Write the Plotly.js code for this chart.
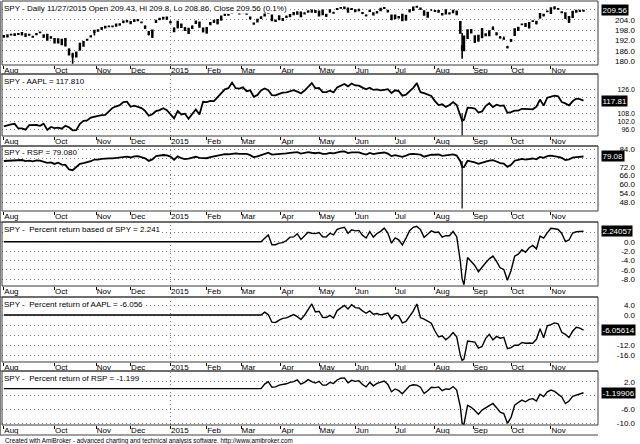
<!DOCTYPE html>
<html><head><meta charset="utf-8">
<script src="https://cdn.plot.ly/plotly-3.0.1.min.js"></script>
<style>html,body{margin:0;padding:0;background:#fff}#chart{width:640px;height:444px}</style>
</head><body><div id="chart"></div>
<script>
// ---------------- DATA ----------------
const dates = [
'2014-08-21','2014-08-25','2014-08-27','2014-08-29',
'2014-09-03','2014-09-05','2014-09-09','2014-09-11','2014-09-15','2014-09-17','2014-09-19','2014-09-23','2014-09-25','2014-09-29',
'2014-10-01','2014-10-03','2014-10-07','2014-10-09','2014-10-13','2014-10-15','2014-10-17','2014-10-21','2014-10-23','2014-10-27','2014-10-29','2014-10-31',
'2014-11-04','2014-11-06','2014-11-10','2014-11-12','2014-11-14','2014-11-18','2014-11-20','2014-11-24','2014-11-26',
'2014-12-01','2014-12-03','2014-12-05','2014-12-09','2014-12-11','2014-12-15','2014-12-17','2014-12-19','2014-12-23','2014-12-26','2014-12-30',
'2015-01-02','2015-01-06','2015-01-08','2015-01-12','2015-01-14','2015-01-16','2015-01-21','2015-01-23','2015-01-27','2015-01-29',
'2015-02-02','2015-02-04','2015-02-06','2015-02-10','2015-02-12','2015-02-17','2015-02-19','2015-02-23','2015-02-25','2015-02-27',
'2015-03-03','2015-03-05','2015-03-09','2015-03-11','2015-03-13','2015-03-17','2015-03-19','2015-03-23','2015-03-25','2015-03-27','2015-03-31',
'2015-04-02','2015-04-07','2015-04-09','2015-04-13','2015-04-15','2015-04-17','2015-04-21','2015-04-23','2015-04-27','2015-04-29',
'2015-05-01','2015-05-05','2015-05-07','2015-05-11','2015-05-13','2015-05-15','2015-05-19','2015-05-21','2015-05-26','2015-05-28',
'2015-06-01','2015-06-03','2015-06-05','2015-06-09','2015-06-11','2015-06-15','2015-06-17','2015-06-19','2015-06-23','2015-06-25','2015-06-29',
'2015-07-01','2015-07-06','2015-07-08','2015-07-10','2015-07-14','2015-07-16','2015-07-20','2015-07-22','2015-07-24','2015-07-28','2015-07-30',
'2015-08-03','2015-08-05','2015-08-07','2015-08-11','2015-08-13','2015-08-17','2015-08-19','2015-08-21','2015-08-24','2015-08-25','2015-08-27','2015-08-31',
'2015-09-02','2015-09-04','2015-09-09','2015-09-11','2015-09-15','2015-09-17','2015-09-21','2015-09-23','2015-09-25','2015-09-29',
'2015-10-01','2015-10-05','2015-10-07','2015-10-09','2015-10-13','2015-10-15','2015-10-19','2015-10-21','2015-10-23','2015-10-27','2015-10-29',
'2015-11-02','2015-11-04','2015-11-06','2015-11-10','2015-11-12','2015-11-16','2015-11-18','2015-11-20','2015-11-24','2015-11-27'
];

const spyOpen = [
194.12,194.31,195.44,195.12,
195.93,195.48,195.85,195.28,194.28,195.60,196.82,195.14,195.53,194.02,
192.99,190.77,192.59,192.99,186.84,184.05,182.59,186.63,188.90,192.57,194.57,196.90,
198.15,198.72,199.53,200.30,200.26,200.46,201.18,202.64,202.98,
202.90,203.27,203.79,202.65,199.29,196.95,194.03,202.74,204.44,204.78,205.63,
202.51,199.07,199.59,201.45,199.30,196.32,199.26,203.27,202.67,197.26,
196.55,202.29,203.53,201.97,204.12,206.93,207.20,208.24,208.76,208.28,
209.33,207.46,204.77,202.09,204.24,205.75,207.56,208.41,206.77,203.28,206.24,
203.95,206.02,206.15,208.15,207.53,208.53,207.98,208.73,209.69,209.41,
206.50,209.72,206.31,209.87,208.19,210.37,211.17,210.85,210.87,210.61,
209.01,209.61,208.24,206.60,209.17,208.07,208.29,210.76,210.93,209.51,206.80,
204.99,205.40,207.13,204.15,208.95,209.73,211.64,210.90,209.21,205.77,209.85,
209.39,208.66,207.69,209.74,207.94,208.48,209.02,202.92,186.50,194.40,193.43,198.25,
191.12,194.84,198.90,194.96,195.03,199.25,195.53,194.00,192.95,187.92,
191.73,195.18,198.03,201.38,201.79,199.46,203.35,203.12,205.29,207.16,209.08,
207.98,211.53,210.54,208.40,208.04,202.83,205.57,208.66,209.20,209.43
];
const spyHigh = [
195.2,195.7,195.9,196.2,
196.4,196.9,196.3,195.9,194.8,196.4,197.3,195.6,195.9,194.5,
193.5,193.3,193.0,193.4,187.5,184.9,185.6,190.7,191.7,193.0,195.0,198.2,
198.6,199.8,200.5,200.7,200.7,201.9,202.0,203.6,203.9,
203.3,204.4,204.6,203.1,201.0,197.6,198.4,204.1,205.2,205.8,206.0,
203.6,199.8,203.5,201.9,199.9,199.3,201.0,203.7,203.0,199.6,
199.8,202.8,204.1,204.5,206.4,207.6,207.6,208.6,209.1,208.7,
209.7,208.1,206.0,202.6,204.7,206.1,207.9,208.8,207.1,204.2,206.6,
205.1,206.6,207.4,208.6,209.0,208.9,208.5,209.6,210.2,209.8,
209.5,210.1,207.6,210.3,208.8,210.9,211.6,211.8,211.2,211.0,
210.2,210.5,208.7,207.2,209.9,208.5,209.2,211.1,211.4,209.9,207.1,
207.1,206.4,207.5,207.1,210.3,211.8,212.2,211.3,209.6,208.7,210.3,
209.8,209.8,208.1,210.1,208.5,209.9,209.6,203.2,196.4,194.5,198.5,198.7,
195.1,195.3,199.3,196.2,197.9,200.3,196.8,194.6,194.4,188.9,
192.8,199.1,200.0,201.9,202.2,202.8,203.8,203.6,208.0,207.6,209.4,
211.3,211.9,210.9,209.1,208.4,206.1,209.2,209.9,209.8,209.8
];
const spyLow = [
193.6,193.8,194.9,194.6,
195.3,195.0,194.1,194.8,193.6,195.1,196.2,193.5,191.9,193.0,
190.3,190.3,189.2,188.5,183.3,178.4,182.1,186.1,188.4,191.8,193.8,195.0,
197.1,198.2,199.0,199.7,199.8,200.0,200.7,202.1,202.5,
201.5,202.8,203.3,202.1,198.8,195.0,193.5,202.2,203.9,204.3,204.1,
201.9,196.8,199.1,199.3,197.6,195.8,198.7,201.6,199.4,196.7,
196.0,200.9,202.3,201.4,203.6,206.4,206.5,207.7,208.1,207.2,
207.9,207.0,204.3,201.2,202.5,204.6,206.0,207.5,203.3,202.8,203.9,
203.4,205.1,205.6,206.7,207.0,205.6,207.2,208.2,208.3,208.1,
206.0,206.7,205.8,208.3,207.6,209.9,210.5,210.3,208.2,209.8,
208.5,209.1,207.4,206.1,208.7,206.6,207.8,209.1,210.4,208.4,203.9,
204.5,204.9,203.2,203.6,208.4,209.2,211.1,209.9,206.5,205.3,209.3,
208.6,208.2,206.6,207.2,207.2,208.0,206.8,196.0,181.4,185.9,192.9,196.1,
190.6,191.3,193.4,194.5,194.5,198.2,195.0,193.1,192.4,187.4,
191.2,194.7,197.5,200.9,199.9,199.0,202.8,201.4,204.8,206.1,208.5,
207.5,210.3,210.0,207.9,204.6,202.3,205.1,208.2,208.7,208.86
];
const spyClose = [
194.70,195.23,195.45,195.77,
195.77,196.45,194.56,195.45,194.14,195.86,196.72,194.02,192.37,193.53,
190.77,192.89,189.68,189.00,183.76,182.56,184.94,190.29,191.22,192.28,194.31,197.81,
197.59,199.46,200.16,200.16,200.31,201.49,201.58,203.22,203.55,
201.97,204.03,204.13,202.60,200.19,195.70,197.99,203.68,204.80,205.45,204.63,
202.77,197.30,203.16,199.83,198.15,198.95,200.20,202.14,199.96,199.14,
199.42,201.45,202.84,204.13,206.09,207.26,206.97,208.18,208.60,207.67,
208.38,207.71,205.57,201.69,203.00,205.07,206.55,208.04,203.76,203.75,204.43,
204.67,205.60,207.07,207.19,208.60,206.08,207.68,209.22,208.82,208.62,
209.10,207.24,207.09,208.80,208.13,210.53,211.04,211.42,208.69,210.34,
209.82,210.06,207.94,206.69,209.54,207.11,208.70,209.65,211.06,208.89,204.44,
206.74,205.89,203.69,206.66,209.88,211.41,211.81,210.40,206.97,208.32,209.85,
209.13,209.31,207.09,207.74,207.67,209.57,207.29,196.46,188.71,186.16,198.13,196.59,
194.62,191.85,193.93,195.83,197.53,198.74,196.42,193.61,192.86,188.15,
192.42,198.74,199.62,201.53,200.41,202.43,203.41,201.93,207.56,206.63,208.98,
210.95,210.78,210.46,208.71,205.13,205.85,208.90,209.46,209.45,209.56
];
const spyChangePct = 0.1;

const aaplClose = [
98.47,99.41,99.99,100.35,
96.86,96.89,95.93,99.30,99.50,99.45,98.84,100.48,95.81,98.01,
97.10,97.53,96.68,98.90,97.71,95.49,95.62,100.32,102.63,102.90,105.09,105.73,
106.32,106.88,107.01,109.39,112.27,113.54,114.37,116.65,117.01,
113.15,113.99,113.08,112.21,110.08,106.42,107.58,109.91,110.66,112.09,110.64,
107.50,104.49,110.02,107.43,107.97,104.22,107.72,111.09,107.32,116.91,
116.65,117.56,117.45,120.51,123.33,126.24,127.12,131.35,127.19,126.87,
127.76,124.84,125.56,120.72,122.06,125.46,126.88,125.63,121.85,121.72,122.89,
123.77,124.04,124.99,125.63,124.61,123.20,125.34,128.06,131.00,127.04,
127.35,124.24,124.20,125.25,123.95,127.68,129.08,130.27,128.52,130.66,
129.17,129.01,127.56,126.34,127.50,125.84,126.22,125.52,125.95,126.42,123.47,
125.52,124.93,121.53,122.23,124.54,127.42,130.95,124.10,123.44,122.33,121.33,
117.43,114.42,115.02,113.00,114.52,116.66,114.52,105.31,102.68,103.29,112.43,112.28,
111.86,108.80,109.68,113.72,115.78,112.96,114.71,113.83,114.22,108.59,
109.11,110.30,110.30,111.64,111.31,111.38,111.25,113.27,118.57,114.06,120.01,
120.66,121.48,121.06,116.77,115.72,114.18,117.29,119.30,118.88,117.81
];

const rspClose = [
75.99,76.20,76.28,76.41,
76.41,76.67,75.94,76.28,75.77,76.44,76.30,75.30,74.70,75.10,
74.00,74.90,73.60,73.30,70.20,69.70,71.70,74.10,74.60,75.05,75.84,77.00,
76.90,77.50,77.80,77.80,77.80,78.20,78.30,78.90,79.00,
78.40,79.20,79.30,78.70,77.80,76.10,77.10,79.30,79.80,80.10,79.80,
79.00,76.90,79.20,77.90,77.30,77.60,78.10,78.90,78.10,77.80,
77.90,78.70,79.20,79.60,80.30,80.70,80.60,81.00,81.20,80.90,
81.10,80.90,80.00,78.60,79.20,80.04,81.08,81.64,80.36,80.44,80.84,
80.92,81.16,81.48,81.64,82.04,81.08,81.48,82.12,81.64,81.32,
81.72,80.84,80.84,81.48,81.24,82.04,82.44,82.52,81.40,81.96,
81.72,81.88,81.00,80.44,81.48,80.68,81.24,81.56,81.80,81.00,79.32,
79.96,79.56,78.84,79.72,80.68,80.92,80.84,80.36,78.92,79.56,80.36,
80.28,80.44,79.56,79.96,79.88,80.52,79.72,75.88,71.96,71.80,76.20,75.72,
75.00,74.12,75.08,75.56,76.20,76.60,75.64,74.60,74.28,72.04,
73.40,76.20,76.84,77.40,77.00,77.56,77.72,77.16,78.76,78.20,79.32,
79.72,79.40,78.84,78.12,76.60,77.16,78.28,78.60,78.92,79.08
];

// intraday extremes of 24 Aug 2015 (long wicks)
const wickDates = ['2015-08-24'];
const aaplWickHigh = [108.3], aaplWickLow = [91.6];
const rspWickHigh = [76.0], rspWickLow = [43.6];

// percent returns: flat 0 before the base day (2015-03-17), then measured
const retBaseDate = '2015-03-17';
const spyRet = [0,
0,0.72,1.45,-0.64,-0.64,-0.31,
-0.20,0.26,0.98,1.03,1.72,0.49,1.27,2.02,1.83,1.73,
1.97,1.06,0.99,1.82,1.49,2.66,2.91,3.10,1.77,2.57,
2.32,2.43,1.40,0.79,2.18,0.99,1.77,2.23,2.92,1.86,-0.31,
0.81,0.40,-0.67,0.78,2.35,3.09,3.29,2.60,0.93,1.58,2.33,
1.98,2.07,0.99,1.30,1.27,2.19,1.08,-4.20,-7.98,-9.22,-3.38,-4.14,
-5.10,-6.45,-5.43,-4.51,-3.68,-3.09,-4.22,-5.59,-5.95,-8.25,
-6.17,-3.09,-2.66,-1.73,-2.27,-1.29,-0.81,-1.53,1.21,0.76,1.91,
2.87,2.78,2.63,1.77,0.03,0.38,1.87,2.14,2.14,2.24057];
const aaplRet = [0,
0,1.13,0.14,-2.88,-2.98,-2.05,
-1.35,-1.13,-0.37,0.14,-0.68,-1.80,-0.10,2.07,4.42,1.26,
1.51,-0.97,-1.00,-0.17,-1.20,1.77,2.89,3.83,2.44,4.14,
2.96,2.83,1.67,0.70,1.63,0.30,0.61,0.05,0.39,0.77,-1.59,
0.05,-0.42,-3.13,-2.57,-0.73,1.56,4.38,-1.08,-1.61,-2.49,-3.29,
-6.40,-8.80,-8.32,-9.93,-8.72,-7.01,-8.72,-16.06,-18.16,-17.67,-10.39,-10.51,
-10.84,-13.28,-12.58,-9.36,-7.72,-9.96,-8.57,-9.27,-8.96,-13.45,
-13.03,-12.08,-12.08,-11.02,-11.28,-11.22,-11.33,-9.72,-5.49,-9.09,-4.34,
-3.83,-3.17,-3.51,-6.93,-7.76,-8.99,-6.51,-4.91,-5.24,-6.05614];
const rspRet = [0,
0,1.3,2.0,0.4,0.5,1.0,
1.1,1.4,1.8,2.0,2.5,1.3,1.8,2.6,2.0,1.6,
2.1,1.0,1.0,1.8,1.5,2.5,3.0,3.1,1.7,2.4,
2.1,2.3,1.2,0.5,1.8,0.8,1.5,1.9,2.2,1.2,-0.9,
-0.1,-0.6,-1.5,-0.4,0.8,1.1,1.0,0.4,-1.4,-0.6,0.4,
0.3,0.5,-0.6,-0.1,-0.2,0.6,-0.4,-5.2,-10.1,-10.3,-4.8,-5.4,
-6.3,-7.4,-6.2,-5.6,-4.8,-4.3,-5.5,-6.8,-7.2,-10.0,
-8.3,-4.8,-4.0,-3.3,-3.8,-3.1,-2.9,-3.6,-1.6,-2.3,-0.9,
-0.4,-0.8,-1.5,-2.4,-4.3,-3.6,-2.2,-1.8,-1.4,-1.19906];

// axis ticks
const monthTickDates = ['2014-08-21','2014-10-01','2014-11-03','2014-12-01','2015-01-02','2015-02-02','2015-03-02','2015-04-01','2015-05-01','2015-06-01','2015-07-01','2015-08-03','2015-09-01','2015-10-01','2015-11-02'];
const monthTickText = ['Aug','Oct','Nov','Dec','2015','Feb','Mar','Apr','May','Jun','Jul','Aug','Sep','Oct','Nov'];
const yearStart = '2015-01-02';
const holidays = ['2014-09-01','2014-11-27','2014-12-25','2015-01-01','2015-01-19','2015-02-16','2015-04-03','2015-05-25','2015-07-03','2015-09-07','2015-11-26'];

const spyTicks = [180,186,192,198,204,210];       const spyTickText = ['180.0','186.0','192.0','198.0','204.0',''];
const aaplTicks = [96,102,108,114,120,126];       const aaplTickText = ['96.0','102.0','108.0','','','126.0'];
const rspTicks = [48,54,60,66,72,78,84];          const rspTickText = ['48.0','54.0','60.0','66.0','72.0','','84.0'];
const spyRetTicks = [-8,-6,-4,-2,0,2];            const spyRetTickText = ['-8.0','-6.0','-4.0','-2.0','0.0',''];
const aaplRetTicks = [-16,-12,-8,-4,0,4];         const aaplRetTickText = ['-16.0','-12.0','','','0.0','4.0'];
const rspRetTicks = [-10,-6,-2,2];                const rspRetTickText = ['-10.0','-6.0','','2.0'];

// ---------------- LAYOUT ----------------
const W = 640, H = 444;
const M = {l: 2, r: 5, t: 1, b: 19};
const plotW = W - M.l - M.r, plotH = H - M.t - M.b;
const xEnd = 596 / plotW;
const py = p => (H - M.b - p) / plotH;
const FONT = 'Arial, "Liberation Sans", sans-serif';
const DOTS = '1px,3px';

const retDates = [dates[0]].concat(dates.slice(dates.indexOf(retBaseDate)));
const last = a => a[a.length - 1];

const panelPx = [[1,65,74],[74,136,146],[146,211,222],[222,286,297],[297,362,371],[371,425,435]];
const yRanges = [[177.7,215.1],[91.2,137.8],[41.85,86.25],[-9.5,4.23],[-18.8,7.2],[-10.5,5.09]];
const yTicks = [[spyTicks,spyTickText],[aaplTicks,aaplTickText],[rspTicks,rspTickText],[spyRetTicks,spyRetTickText],[aaplRetTicks,aaplRetTickText],[rspRetTicks,rspRetTickText]];
const yTickSize = [8, 7, 8, 8, 8, 8];

const layout = {
  width: W, height: H, margin: M, paper_bgcolor: '#fff', plot_bgcolor: '#fff',
  showlegend: false, shapes: [], annotations: [],
  font: {family: FONT, size: 8, color: '#000'}
};
const breaks = [{bounds: ['sat','mon']}, {values: holidays, dvalue: 86400000}];

for (let i = 0; i < 6; i++) {
  const n = i === 0 ? '' : String(i + 1);
  const [top, bot, stripBot] = panelPx[i];
  layout['xaxis' + n] = {
    domain: [0, xEnd], anchor: 'y' + n, type: 'date',
    range: ['2014-08-20', '2015-12-09'], rangebreaks: breaks,
    tickvals: monthTickDates, ticktext: monthTickText,
    ticks: 'outside', ticklen: 3, tickwidth: 1, tickcolor: '#000',
    ticklabelposition: 'outside right', ticklabelstandoff: -3,
    tickfont: {family: FONT, size: 8, color: '#000'},
    showgrid: false, zeroline: false, showline: false,
    rangeslider: {visible: false}, fixedrange: true
  };
  layout['yaxis' + n] = {
    domain: [py(bot), py(top)], range: yRanges[i],
    anchor: 'free', position: 1, side: 'left',
    tickvals: yTicks[i][0], ticktext: yTicks[i][1], ticks: '',
    tickfont: {family: FONT, size: yTickSize[i], color: '#000'},
    showgrid: true, gridcolor: '#7a7a7a', griddash: DOTS, gridwidth: 1,
    zeroline: false, showline: false, fixedrange: true
  };
  // frame
  layout.shapes.push({type: 'rect', xref: 'x' + n + ' domain', yref: 'y' + n + ' domain',
    x0: 0, x1: 1, y0: 0, y1: 1, line: {color: '#3a3a3a', width: 1}, fillcolor: 'rgba(0,0,0,0)'});
  // year separator
  layout.shapes.push({type: 'line', xref: 'x' + n, yref: 'y' + n + ' domain', layer: 'below',
    x0: yearStart, x1: yearStart, y0: 0, y1: 1, line: {color: '#7a7a7a', width: 1, dash: DOTS}});
  // strip separator under the date labels
  layout.shapes.push({type: 'line', xref: 'paper', yref: 'paper',
    x0: -M.l / plotW, x1: xEnd, y0: py(stripBot), y1: py(stripBot), line: {color: '#a0a0a0', width: 2}});
}
// outer left edge
layout.shapes.push({type: 'line', xref: 'paper', yref: 'paper', x0: -M.l / plotW, x1: -M.l / plotW,
  y0: py(435), y1: 1, line: {color: '#555', width: 1.5}});

const lastDate = last(dates).split('-');
const dateTxt = lastDate[1] + '/' + lastDate[2] + '/' + lastDate[0];
const titles = [
  'SPY - Daily ' + dateTxt + ' Open ' + last(spyOpen) + ', Hi ' + last(spyHigh) + ', Lo ' + last(spyLow) + ', Close ' + last(spyClose) + ' (' + spyChangePct + '%)',
  'SPY - AAPL = ' + last(aaplClose).toFixed(3),
  'SPY - RSP = ' + last(rspClose).toFixed(3),
  'SPY -\u00a0 Percent return based of SPY = ' + last(spyRet).toFixed(3),
  'SPY -\u00a0 Percent return of AAPL = ' + last(aaplRet).toFixed(3),
  'SPY -\u00a0 Percent return of RSP = ' + last(rspRet).toFixed(3)
];
const badges = [
  [last(spyClose), last(spyClose).toFixed(2)],
  [last(aaplClose), last(aaplClose).toFixed(2)],
  [last(rspClose), last(rspClose).toFixed(2)],
  [last(spyRet), last(spyRet).toFixed(5)],
  [last(aaplRet), last(aaplRet).toFixed(5)],
  [last(rspRet), last(rspRet).toFixed(5)]
];
for (let i = 0; i < 6; i++) {
  const n = i === 0 ? '' : String(i + 1);
  layout.annotations.push({xref: 'paper', yref: 'paper', x: 0, xshift: 1, y: py(panelPx[i][0]), yshift: -1.5,
    xanchor: 'left', yanchor: 'top', showarrow: false, text: titles[i], bgcolor: '#fff', borderpad: 0,
    font: {family: FONT, size: 8, color: '#000'}});
  layout.annotations.push({xref: 'paper', yref: 'y' + n, x: xEnd, xshift: 3, y: badges[i][0],
    xanchor: 'left', yanchor: 'middle', showarrow: false, text: badges[i][1],
    bgcolor: '#000', borderpad: 0.5, font: {family: FONT, size: 8, color: '#fff'}});
}
layout.annotations.push({xref: 'paper', yref: 'paper', x: 0, xshift: 1, y: py(441),
  xanchor: 'left', yanchor: 'middle', showarrow: false,
  text: 'Created with AmiBroker - advanced charting and technical analysis software. http://www.amibroker.com',
  font: {family: FONT, size: 6.3, color: '#000'}});

// ---------------- TRACES ----------------
const blk = w => ({color: '#000', width: w});
const traces = [
  {type: 'candlestick', x: dates, open: spyOpen, high: spyHigh, low: spyLow, close: spyClose,
   xaxis: 'x', yaxis: 'y', whiskerwidth: 0, hoverinfo: 'skip',
   increasing: {line: {color: '#000', width: 1.6}, fillcolor: '#1d7a1d'},
   decreasing: {line: {color: '#000', width: 1.6}, fillcolor: '#9a1515'}},
  {type: 'scatter', mode: 'lines', x: dates, y: aaplClose, xaxis: 'x2', yaxis: 'y2', line: blk(1.8), hoverinfo: 'skip'},
  {type: 'scatter', mode: 'lines', x: [wickDates[0], wickDates[0]], y: [aaplWickHigh[0], aaplWickLow[0]], xaxis: 'x2', yaxis: 'y2', line: blk(1.2), hoverinfo: 'skip'},
  {type: 'scatter', mode: 'lines', x: dates, y: rspClose, xaxis: 'x3', yaxis: 'y3', line: blk(1.8), hoverinfo: 'skip'},
  {type: 'scatter', mode: 'lines', x: [wickDates[0], wickDates[0]], y: [rspWickHigh[0], rspWickLow[0]], xaxis: 'x3', yaxis: 'y3', line: blk(1.2), hoverinfo: 'skip'},
  {type: 'scatter', mode: 'lines', x: retDates, y: spyRet, xaxis: 'x4', yaxis: 'y4', line: blk(1.4), hoverinfo: 'skip'},
  {type: 'scatter', mode: 'lines', x: retDates, y: aaplRet, xaxis: 'x5', yaxis: 'y5', line: blk(1.4), hoverinfo: 'skip'},
  {type: 'scatter', mode: 'lines', x: retDates, y: rspRet, xaxis: 'x6', yaxis: 'y6', line: blk(1.4), hoverinfo: 'skip'}
];

Plotly.newPlot('chart', traces, layout, {staticPlot: true, displayModeBar: false});
</script></body></html>
